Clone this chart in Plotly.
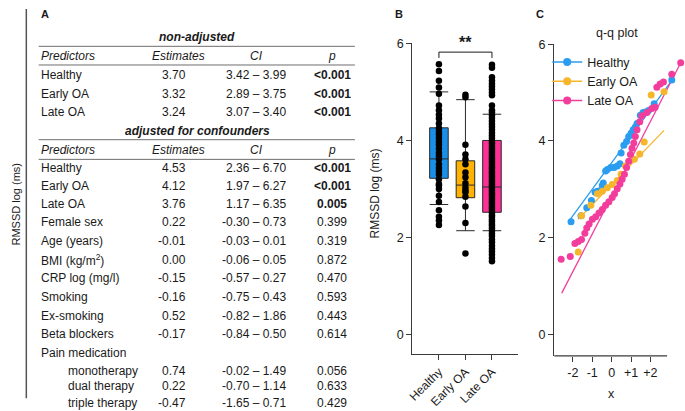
import plotly.graph_objects as go

# ---------------- data ----------------
# Panel A: regression table
nonadj_pred = ["Healthy", "Early OA", "Late OA"]
nonadj_est = ["3.70", "3.32", "3.24"]
nonadj_ci = ["3.42 – 3.99", "2.89 – 3.75", "3.07 – 3.40"]
nonadj_p = ["<0.001", "<0.001", "<0.001"]

adj_pred = ["Healthy", "Early OA", "Late OA", "Female sex", "Age (years)",
            "BMI (kg/m<sup>2</sup>)", "CRP log (mg/l)", "Smoking", "Ex-smoking",
            "Beta blockers", "Pain medication", "monotherapy", "dual therapy",
            "triple therapy"]
adj_indent = [False] * 11 + [True, True, True]
adj_est = ["4.53", "4.12", "3.76", "0.22", "-0.01", "0.00", "-0.15", "-0.16",
           "0.52", "-0.17", "", "0.74", "0.22", "-0.47"]
adj_ci = ["2.36 – 6.70", "1.97 – 6.27", "1.17 – 6.35", "-0.30 – 0.73",
          "-0.03 – 0.01", "-0.06 – 0.05", "-0.57 – 0.27", "-0.75 – 0.43",
          "-0.82 – 1.86", "-0.84 – 0.50", "", "-0.02 – 1.49", "-0.70 – 1.14",
          "-1.65 – 0.71"]
adj_p = ["<0.001", "<0.001", "0.005", "0.399", "0.319", "0.872", "0.470",
         "0.593", "0.443", "0.614", "", "0.056", "0.633", "0.429"]
header = ["Predictors", "Estimates", "CI", "p"]

# Panel B: box plot
groups = ["Healthy", "Early OA", "Late OA"]
box_q1 = [3.22, 2.82, 2.52]
box_median = [3.62, 3.08, 3.04]
box_q3 = [4.26, 3.58, 4.00]
box_lower = [2.68, 2.14, 2.14]
box_upper = [5.00, 4.84, 4.54]

healthy_vals = [2.26, 2.35, 2.43, 2.56, 2.73, 2.86, 3.00, 3.07, 3.10, 3.20,
                3.30, 3.37, 3.43, 3.51, 3.61, 3.68, 3.74, 3.83, 3.91, 3.98,
                4.05, 4.12, 4.18, 4.25, 4.35, 4.45, 4.53, 4.62, 4.72, 4.96,
                5.09, 5.23, 5.43, 5.57]
early_vals = [1.67, 2.30, 2.64, 2.84, 2.93, 2.97, 3.03, 3.12, 3.24, 3.34,
              3.51, 3.61, 3.71, 3.91, 4.89, 4.94]
late_vals = [1.51, 1.58, 1.65, 1.71, 1.77, 1.83, 1.90, 1.96, 2.03, 2.08,
             2.14, 2.19, 2.24, 2.28, 2.33, 2.37, 2.42, 2.46, 2.51, 2.55,
             2.60, 2.64, 2.69, 2.73, 2.78, 2.82, 2.87, 2.91, 2.96, 3.00,
             3.05, 3.09, 3.14, 3.18, 3.23, 3.27, 3.32, 3.36, 3.41, 3.45,
             3.50, 3.55, 3.60, 3.64, 3.69, 3.74, 3.79, 3.84, 3.89, 3.94,
             3.99, 4.05, 4.10, 4.16, 4.22, 4.28, 4.34, 4.40, 4.46, 4.52,
             4.58, 4.62, 4.72, 4.93, 4.99, 5.05, 5.11, 5.17, 5.23, 5.30,
             5.50, 5.56]

# Panel C: q-q plot (theoretical quantile x, sample y)
qq_healthy_x = [-2.09, -1.58, -1.28, -1.04, -0.85, -0.73, -0.59, -0.48, -0.43,
                -0.31, -0.22, -0.05, 0.12, 0.29, 0.43, 0.49, 0.63, 0.77, 0.88,
                1.00, 1.11, 1.22, 1.31, 1.48, 1.62, 1.75, 1.90, 2.19, 3.10]
qq_healthy_y = [2.33, 2.45, 2.62, 2.77, 2.94, 2.96, 2.97, 3.08, 3.13, 3.38,
                3.41, 3.45, 3.45, 3.48, 3.53, 3.75, 3.91, 3.99, 4.09, 4.16,
                4.23, 4.29, 4.36, 4.53, 4.59, 4.60, 4.63, 4.77, 5.26]
qq_early_x = [-1.72, -1.55, -1.07, -0.73, -0.48, -0.22, 0.03, 0.29, 0.49,
              0.71, 1.17, 1.45, 1.68, 2.04, 2.70]
qq_early_y = [1.70, 2.45, 2.67, 2.91, 2.96, 3.03, 3.10, 3.18, 3.31, 3.48,
              3.62, 3.73, 3.98, 4.95, 5.02]
qq_late_x = [-2.60, -2.13, -1.89, -1.72, -1.55, -1.38, -1.28, -1.16, -0.99,
             -0.82, -0.65, -0.48, -0.31, -0.14, 0.03, 0.15, 0.29, 0.43, 0.54,
             0.66, 0.77, 0.88, 0.97, 1.05, 1.14, 1.22, 1.31, 1.45, 1.56, 1.82,
             2.07, 2.24, 2.33, 2.50, 2.67, 3.10, 3.56]
qq_late_y = [1.55, 1.61, 1.88, 1.92, 1.96, 2.09, 2.20, 2.28, 2.38, 2.43, 2.51,
             2.58, 2.67, 2.74, 2.83, 2.91, 3.01, 3.11, 3.21, 3.31, 3.45, 3.58,
             3.72, 3.85, 3.96, 4.09, 4.23, 4.40, 4.52, 4.59, 4.67, 4.70, 5.11,
             5.18, 5.22, 5.38, 5.62]
fit_healthy_x = [-2.18, 3.15]
fit_healthy_y = [2.35, 5.28]
fit_early_x = [-1.72, 2.70]
fit_early_y = [2.38, 4.22]
fit_late_x = [-2.57, 3.56]
fit_late_y = [0.85, 5.62]

# ---------------- style ----------------
W, H = 685, 411
FONT = "Liberation Sans, Arial, sans-serif"
TXT = "#1a1a1a"
AX = "#3a3a3a"
box_colors = ["#1a8fe8", "#ffb300", "#ff2f96"]
qq_colors = ["#2a9df0", "#f5b62c", "#f23d9d"]


def fx(p):
    return p / W


def fy(p):
    return 1 - p / H


fig = go.Figure()

# ---------- Panel B ----------
for name, col, q1, md, q3, lo, hi in zip(groups, box_colors, box_q1, box_median,
                                         box_q3, box_lower, box_upper):
    fig.add_trace(go.Box(
        x=[name], q1=[q1], median=[md], q3=[q3], lowerfence=[lo], upperfence=[hi],
        fillcolor=col, line=dict(color="#2a2a2a", width=1), width=0.7,
        whiskerwidth=1, boxpoints=False, showlegend=False, hoverinfo="skip",
        xaxis="x", yaxis="y"))

for name, vals in zip(groups, [healthy_vals, early_vals, late_vals]):
    fig.add_trace(go.Scatter(
        x=[name] * len(vals), y=vals, mode="markers",
        marker=dict(color="black", size=6.5), showlegend=False,
        hoverinfo="skip", xaxis="x", yaxis="y", cliponaxis=False))

# ---------- Panel C ----------
qq_sets = [(qq_healthy_x, qq_healthy_y, fit_healthy_x, fit_healthy_y),
           (qq_early_x, qq_early_y, fit_early_x, fit_early_y),
           (qq_late_x, qq_late_y, fit_late_x, fit_late_y)]
for name, col, (qx, qy, lx, ly) in zip(groups, qq_colors, qq_sets):
    fig.add_trace(go.Scatter(x=lx, y=ly, mode="lines",
                             line=dict(color=col, width=1.3), showlegend=False,
                             hoverinfo="skip", xaxis="x2", yaxis="y2"))
for name, col, (qx, qy, lx, ly) in zip(groups, qq_colors, qq_sets):
    fig.add_trace(go.Scatter(x=qx, y=qy, mode="markers",
                             marker=dict(color=col, size=7), showlegend=False,
                             hoverinfo="skip", xaxis="x2", yaxis="y2",
                             cliponaxis=False))
for name, col in zip(groups, qq_colors):
    fig.add_trace(go.Scatter(x=[None], y=[None], mode="lines+markers", name=name,
                             line=dict(color=col, width=1.5),
                             marker=dict(color=col, size=8),
                             xaxis="x2", yaxis="y2"))

# ---------- annotations (table) ----------
ann = []


def txt(x, y, s, size=12, xanchor="left", angle=0, color=TXT):
    ann.append(dict(x=fx(x), y=fy(y), xref="paper", yref="paper", text=s,
                    showarrow=False, xanchor=xanchor, yanchor="middle",
                    textangle=angle, font=dict(family=FONT, size=size, color=color)))


def pfmt(p):
    if p == "":
        return ""
    if p.startswith("<") or float(p) < 0.05:
        return "<b>" + p.replace("<", "&lt;") + "</b>"
    return p


X_PRED, X_EST, X_CI, X_P = 33, 184, 284, 329
X_EST_H, X_CI_H = 174, 253


def header_row(y):
    txt(X_PRED, y, "<i>%s</i>" % header[0])
    txt(X_EST_H, y, "<i>%s</i>" % header[1], xanchor="center")
    txt(X_CI_H, y, "<i>%s</i>" % header[2], xanchor="center")
    txt(X_P, y, "<i>%s</i>" % header[3], xanchor="center")


txt(193, 31, "<b><i>non-adjusted</i></b>", xanchor="center")
header_row(50)
for i, y in enumerate([69, 88, 107]):
    txt(X_PRED, y, nonadj_pred[i])
    txt(X_EST, y, nonadj_est[i], xanchor="right")
    txt(X_CI, y, nonadj_ci[i], xanchor="right")
    txt(X_P, y, pfmt(nonadj_p[i]), xanchor="center")

txt(193, 126, "<b><i>adjusted for confounders</i></b>", xanchor="center")
header_row(145)
adj_rows_y = [164, 182, 200, 219, 238, 257, 276, 295, 314, 333, 352, 370, 386, 403]
for i, y in enumerate(adj_rows_y):
    txt(61 if adj_indent[i] else X_PRED, y, adj_pred[i])
    if adj_est[i]:
        txt(X_EST, y, adj_est[i], xanchor="right")
        txt(X_CI, y, adj_ci[i], xanchor="right")
        txt(X_P, y, pfmt(adj_p[i]), xanchor="center")

txt(10, 200, "RMSSD log (ms)", size=11, xanchor="center", angle=-90)
txt(372, 190, "RMSSD log (ms)", size=12, xanchor="center", angle=-90)
txt(39, 7, "<b>A</b>", size=11, xanchor="center")
txt(396, 7, "<b>B</b>", size=11, xanchor="center")
txt(539, 7, "<b>C</b>", size=11, xanchor="center")
txt(616, 26, "q-q plot", size=12.5, xanchor="center")
txt(611, 394, "x", size=12.5, xanchor="center")

# significance stars
ann.append(dict(x=1, y=5.80, xref="x", yref="y", text="<b>**</b>", showarrow=False,
                xanchor="center", yanchor="bottom",
                font=dict(family=FONT, size=16, color=TXT)))

# ---------- shapes ----------
shapes = []


def hline(x0, x1, y, color="#6e6e6e", width=1):
    shapes.append(dict(type="line", xref="paper", yref="paper", x0=fx(x0), x1=fx(x1),
                       y0=fy(y), y1=fy(y), line=dict(color=color, width=width)))


for y in [40, 59, 135, 155]:
    hline(33, 352, y)
shapes.append(dict(type="line", xref="paper", yref="paper", x0=fx(20.5), x1=fx(20.5),
                   y0=fy(2), y1=fy(398), line=dict(color="#555", width=1.5)))
# bracket in B
for (x0, x1, y0, y1) in [(0, 0, 5.70, 5.82), (0, 2, 5.82, 5.82), (2, 2, 5.82, 5.70)]:
    shapes.append(dict(type="line", xref="x", yref="y", x0=x0, x1=x1, y0=y0, y1=y1,
                       line=dict(color=TXT, width=1)))
# x axis line of C
shapes.append(dict(type="line", xref="x2", yref="paper", x0=-2.96, x1=2.86,
                   y0=fy(355), y1=fy(355), line=dict(color=AX, width=1.2)))

tickfont = dict(family=FONT, size=12.5, color=TXT)
fig.update_layout(
    width=W, height=H, margin=dict(l=0, r=0, t=0, b=0),
    paper_bgcolor="white", plot_bgcolor="white",
    font=dict(family=FONT, color=TXT),
    annotations=ann, shapes=shapes,
    xaxis=dict(domain=[fx(410), fx(517)], type="category",
               categoryorder="array", categoryarray=groups, range=[-1, 3],
               showline=True, linecolor=AX, linewidth=1.2, ticks="outside",
               ticklen=5, tickcolor=AX, tickangle=-45,
               tickfont=dict(family=FONT, size=12, color=TXT),
               showgrid=False, zeroline=False, anchor="y"),
    yaxis=dict(domain=[fy(353), fy(37)], range=[-0.4, 6], tickvals=[0, 2, 4, 6],
               showline=True, linecolor=AX, linewidth=1.2, ticks="outside",
               ticklen=5, tickcolor=AX, tickfont=tickfont, showgrid=False,
               zeroline=False, anchor="x"),
    xaxis2=dict(domain=[fx(553), 1.0], range=[-2.96, 3.78],
                tickvals=[-2, -1, 0, 1, 2], ticktext=["-2", "-1", "0", "+1", "+2"],
                showline=False, ticks="outside", ticklen=5, tickcolor=AX,
                tickfont=tickfont, showgrid=False, zeroline=False, anchor="y2"),
    yaxis2=dict(domain=[fy(355), fy(38)], range=[-0.45, 6], tickvals=[0, 2, 4, 6],
                showline=True, linecolor=AX, linewidth=1.2, ticks="outside",
                ticklen=5, tickcolor=AX, tickfont=tickfont, showgrid=False,
                zeroline=False, anchor="x2"),
    legend=dict(x=fx(546), y=fy(41), xanchor="left", yanchor="top",
                bgcolor="rgba(0,0,0,0)", font=dict(family=FONT, size=12.5, color=TXT),
                tracegroupgap=0, itemwidth=30),
    showlegend=True,
)

fig.write_html("out.html", config={"displayModeBar": False},
               post_script="document.body.style.margin='0px';"
                           "document.body.style.overflow='hidden';")
